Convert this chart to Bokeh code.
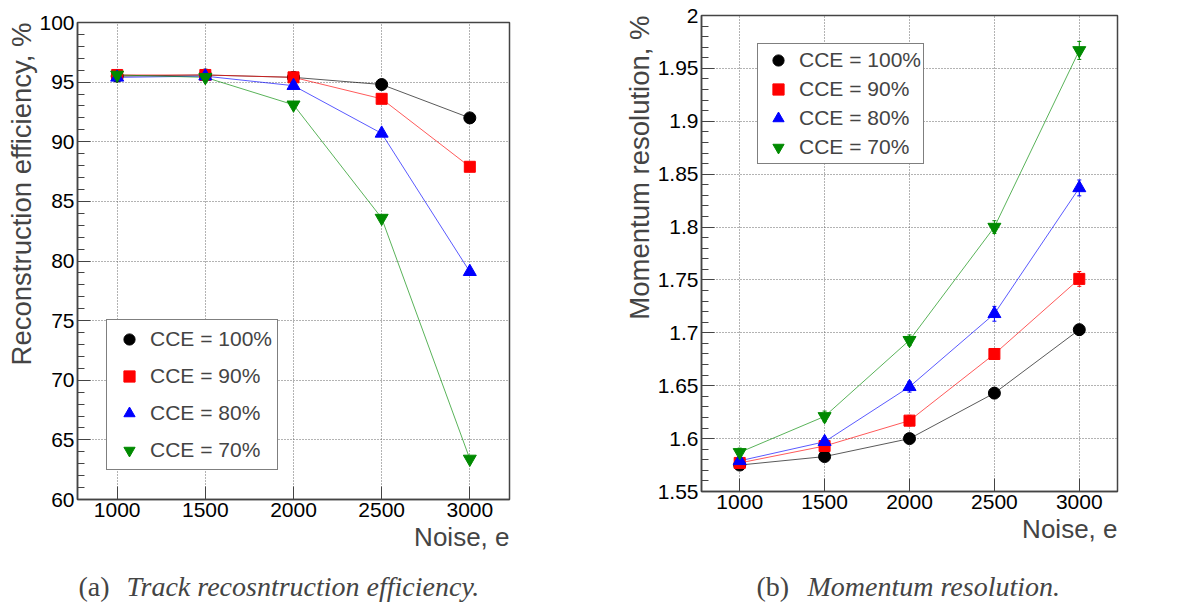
from bokeh.plotting import figure
from bokeh.models import (Range1d, FixedTicker, CustomJSTickFormatter, Legend, LegendItem,
                          Title, Whisker, TeeHead, ColumnDataSource, Label)
from bokeh.layouts import column, row
from bokeh.embed import file_html
from bokeh.resources import INLINE

# ---------------- data ----------------
noise = [1000, 1500, 2000, 2500, 3000]
series_labels = ["CCE = 100%", "CCE = 90%", "CCE = 80%", "CCE = 70%"]

eff_100 = [95.5, 95.6, 95.4, 94.8, 92.0]
eff_90 = [95.6, 95.6, 95.4, 93.6, 87.9]
eff_80 = [95.4, 95.5, 94.7, 90.7, 79.1]
eff_70 = [95.6, 95.4, 93.1, 83.6, 63.4]

res_100 = [1.575, 1.583, 1.600, 1.643, 1.703]
res_90 = [1.577, 1.593, 1.617, 1.680, 1.751]
res_80 = [1.579, 1.597, 1.649, 1.718, 1.837]
res_70 = [1.587, 1.621, 1.693, 1.800, 1.967]

res_err_100 = [0.004, 0.004, 0.004, 0.005, 0.005]
res_err_90 = [0.004, 0.004, 0.005, 0.005, 0.007]
res_err_80 = [0.004, 0.004, 0.005, 0.007, 0.0075]
res_err_70 = [0.004, 0.005, 0.005, 0.006, 0.0085]

x_ticks = [1000, 1500, 2000, 2500, 3000]
eff_ticks = [60, 65, 70, 75, 80, 85, 90, 95, 100]
eff_minor = list(range(60, 101))
res_ticks = [1.55, 1.6, 1.65, 1.7, 1.75, 1.8, 1.85, 1.9, 1.95, 2.0]
res_minor = [round(1.55 + 0.01 * i, 2) for i in range(46)]

caption_a = ("(a)", "Track recosntruction efficiency.")
caption_b = ("(b)", "Momentum resolution.")

colors = ["#000000", "#ff0000", "#0000ff", "#008a00"]
markers = ["circle", "square", "triangle", "inverted_triangle"]
msizes = [12, 11, 13, 13]

FONT = "Liberation Sans"
SERIF = "Liberation Serif"
FRAME = "#444444"
PANEL_H = 572
CAP_H = 612 - PANEL_H


def make_panel(width, borders, yrange, yticks, yminor, ytitle, ys, errs,
               leg_loc, leg_pad, leg_spacing, leg_gw, leg_standoff):
    p = figure(width=width, height=PANEL_H, output_backend="svg", toolbar_location=None,
               title_location=None,
               x_range=Range1d(775, 3225), y_range=Range1d(*yrange),
               min_border_left=borders[0], min_border_right=borders[1],
               min_border_top=borders[2], min_border_bottom=borders[3])
    p.background_fill_color = "white"
    p.border_fill_color = "white"
    p.outline_line_color = FRAME
    p.outline_line_width = 1.5

    p.xaxis.ticker = FixedTicker(ticks=x_ticks, minor_ticks=[])
    p.yaxis.ticker = FixedTicker(ticks=yticks, minor_ticks=yminor)
    p.yaxis.formatter = CustomJSTickFormatter(
        code="var s = (Math.round(tick*100)/100).toString(); return s;")
    for ax in [p.xaxis[0], p.yaxis[0]]:
        ax.axis_line_color = FRAME
        ax.axis_line_width = 1.5
        ax.major_tick_in = 13
        ax.major_tick_out = 0
        ax.minor_tick_in = 7
        ax.minor_tick_out = 0
        ax.major_tick_line_color = FRAME
        ax.minor_tick_line_color = FRAME
        ax.major_label_text_font = FONT
        ax.major_label_text_font_size = "21px"
        ax.major_label_text_color = "black"
    p.xaxis.major_label_standoff = 3
    p.yaxis.major_label_standoff = 3

    p.xgrid.ticker = FixedTicker(ticks=x_ticks)
    p.ygrid.ticker = FixedTicker(ticks=yticks)
    for g in [p.xgrid[0], p.ygrid[0]]:
        g.grid_line_color = "#666666"
        g.grid_line_dash = "1 2"
        g.grid_line_width = 1

    items = []
    for i in range(4):
        p.line(noise, ys[i], line_color=colors[i], line_width=1, line_alpha=0.65)
        if errs is not None:
            src = ColumnDataSource(dict(x=noise,
                                        lo=[v - e for v, e in zip(ys[i], errs[i])],
                                        hi=[v + e for v, e in zip(ys[i], errs[i])]))
            w = Whisker(source=src, base="x", lower="lo", upper="hi",
                        line_color=colors[i], line_width=1, level="underlay",
                        upper_head=TeeHead(size=4, line_color=colors[i], line_width=1),
                        lower_head=TeeHead(size=4, line_color=colors[i], line_width=1))
            p.add_layout(w)
    for i in range(4):
        r = p.scatter(noise, ys[i], marker=markers[i], size=msizes[i],
                      fill_color=colors[i], line_color=colors[i])
        items.append(LegendItem(label=series_labels[i], renderers=[r]))

    leg = Legend(items=items, location=leg_loc, margin=0, padding=leg_pad,
                 spacing=leg_spacing, glyph_width=leg_gw, glyph_height=28,
                 label_height=20, label_standoff=leg_standoff,
                 label_text_font=FONT, label_text_font_size="21px",
                 border_line_color="black", border_line_width=1,
                 background_fill_color="white", background_fill_alpha=1)
    p.add_layout(leg, "center")

    p.add_layout(Title(text="Noise, e", align="right", text_font=FONT,
                       text_font_size="26px", text_font_style="normal",
                       standoff=0), "below")
    p.add_layout(Title(text=ytitle, align="right", text_font=FONT,
                       text_font_size="27.5px", text_font_style="normal",
                       standoff=0), "left")
    return p


p1 = make_panel(589, (77, 80, 22, PANEL_H - 499), (60, 100), eff_ticks, eff_minor,
                "Reconstruction efficiency, %",
                [eff_100, eff_90, eff_80, eff_70], None,
                (29, 29), 5, 9, 34, 4)
p2 = make_panel(590, (112, 62, 15, PANEL_H - 491), (1.55, 2.0), res_ticks, res_minor,
                "Momentum resolution, %",
                [res_100, res_90, res_80, res_70],
                [res_err_100, res_err_90, res_err_80, res_err_70],
                (56, 327), 2, 1, 36, 3)

cap = figure(width=1179, height=CAP_H, output_backend="svg", toolbar_location=None,
             x_range=Range1d(0, 1179), y_range=Range1d(0, CAP_H),
             x_axis_type=None, y_axis_type=None, min_border=0, title_location=None)
cap.outline_line_color = None
cap.grid.visible = False
for (pre, txt), x0, x1 in [(caption_a, 78, 126), (caption_b, 756, 807)]:
    cap.add_layout(Label(x=x0, y=CAP_H - 14, text=pre, text_font=SERIF,
                         text_font_size="28px", text_line_height=1.0,
                         text_baseline="middle", text_align="left"))
    cap.add_layout(Label(x=x1, y=CAP_H - 14, text=txt, text_font=SERIF,
                         text_font_size="28px", text_font_style="italic",
                         text_line_height=1.0, text_baseline="middle", text_align="left"))

layout = column(row(column(p1), column(p2)), cap)
open("out.html", "w").write(file_html(layout, INLINE))
